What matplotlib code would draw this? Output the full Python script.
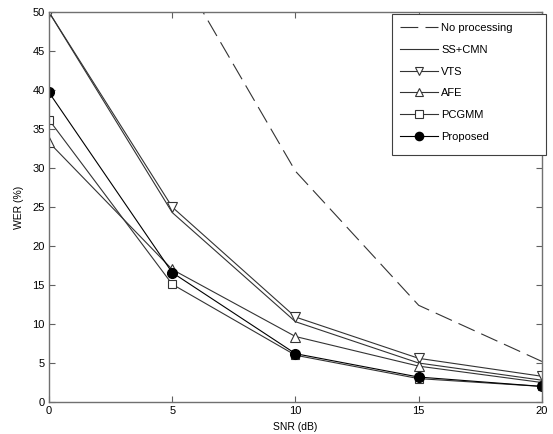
import matplotlib
matplotlib.use("Agg")
import matplotlib.pyplot as plt
from matplotlib.patches import Rectangle

plt.rcParams['font.family'] = ['Liberation Sans', 'DejaVu Sans']

snr = [0, 5, 10, 15, 20]
no_processing = [80.0, 56.8, 29.6, 12.4, 5.2]
ss_cmn = [50.0, 24.3, 10.3, 5.0, 2.8]
vts = [50.0, 25.0, 10.9, 5.6, 3.3]
afe = [33.3, 17.0, 8.4, 4.6, 2.5]
pcgmm = [36.2, 15.1, 6.0, 3.0, 2.0]
proposed = [39.7, 16.6, 6.2, 3.2, 2.0]

W, H = 553, 434
fig = plt.figure(figsize=(W / 100, H / 100), dpi=100)
ax = fig.add_axes([0.0886, 0.0737, 0.8914, 0.8983])

lc = '#333333'
ax.plot(snr, no_processing, color=lc, lw=0.8, dashes=(16, 6.5), label='No processing')
ax.plot(snr, ss_cmn, color=lc, lw=0.8, label='SS+CMN')
ax.plot(snr, vts, color=lc, lw=0.8, marker='v', ms=7, mfc='white', mec=lc, mew=0.8, label='VTS')
ax.plot(snr, afe, color=lc, lw=0.8, marker='^', ms=7, mfc='white', mec=lc, mew=0.8, label='AFE')
ax.plot(snr, pcgmm, color=lc, lw=0.8, marker='s', ms=6, mfc='white', mec=lc, mew=0.8, label='PCGMM')
ax.plot(snr, proposed, color='black', lw=0.8, marker='o', ms=7, mfc='black', mec='black', label='Proposed')

ax.set_xlim(0, 20)
ax.set_ylim(0, 50)
ax.set_xticks([0, 5, 10, 15, 20])
ax.set_yticks(range(0, 51, 5))
ax.tick_params(direction='in', top=True, right=True, labelsize=8, length=4, color='#606060', width=0.8, pad=3)
for s in ax.spines.values():
    s.set_color('#707070')
    s.set_linewidth(1.0)
ax.set_xlabel('SNR (dB)', fontsize=7.5, labelpad=4)
ax.set_ylabel('WER (%)', fontsize=7.5, labelpad=6)

# legend frame
frame = Rectangle((392 / W, 1 - 155 / H), (546 - 392) / W, (155 - 14) / H,
                  transform=fig.transFigure, facecolor='white', edgecolor='#404040',
                  lw=0.8, zorder=5)
fig.patches.append(frame)

leg = fig.legend(*ax.get_legend_handles_labels(), loc='upper left',
                 bbox_to_anchor=(397 / W, 1 - 20 / H),
                 fontsize=8, frameon=False, handlelength=3.4, borderpad=0.3,
                 labelspacing=1.05, borderaxespad=0.0, handletextpad=0.3, markerscale=0.85)
leg.set_zorder(6)

fig.savefig('out.png', dpi=100)
